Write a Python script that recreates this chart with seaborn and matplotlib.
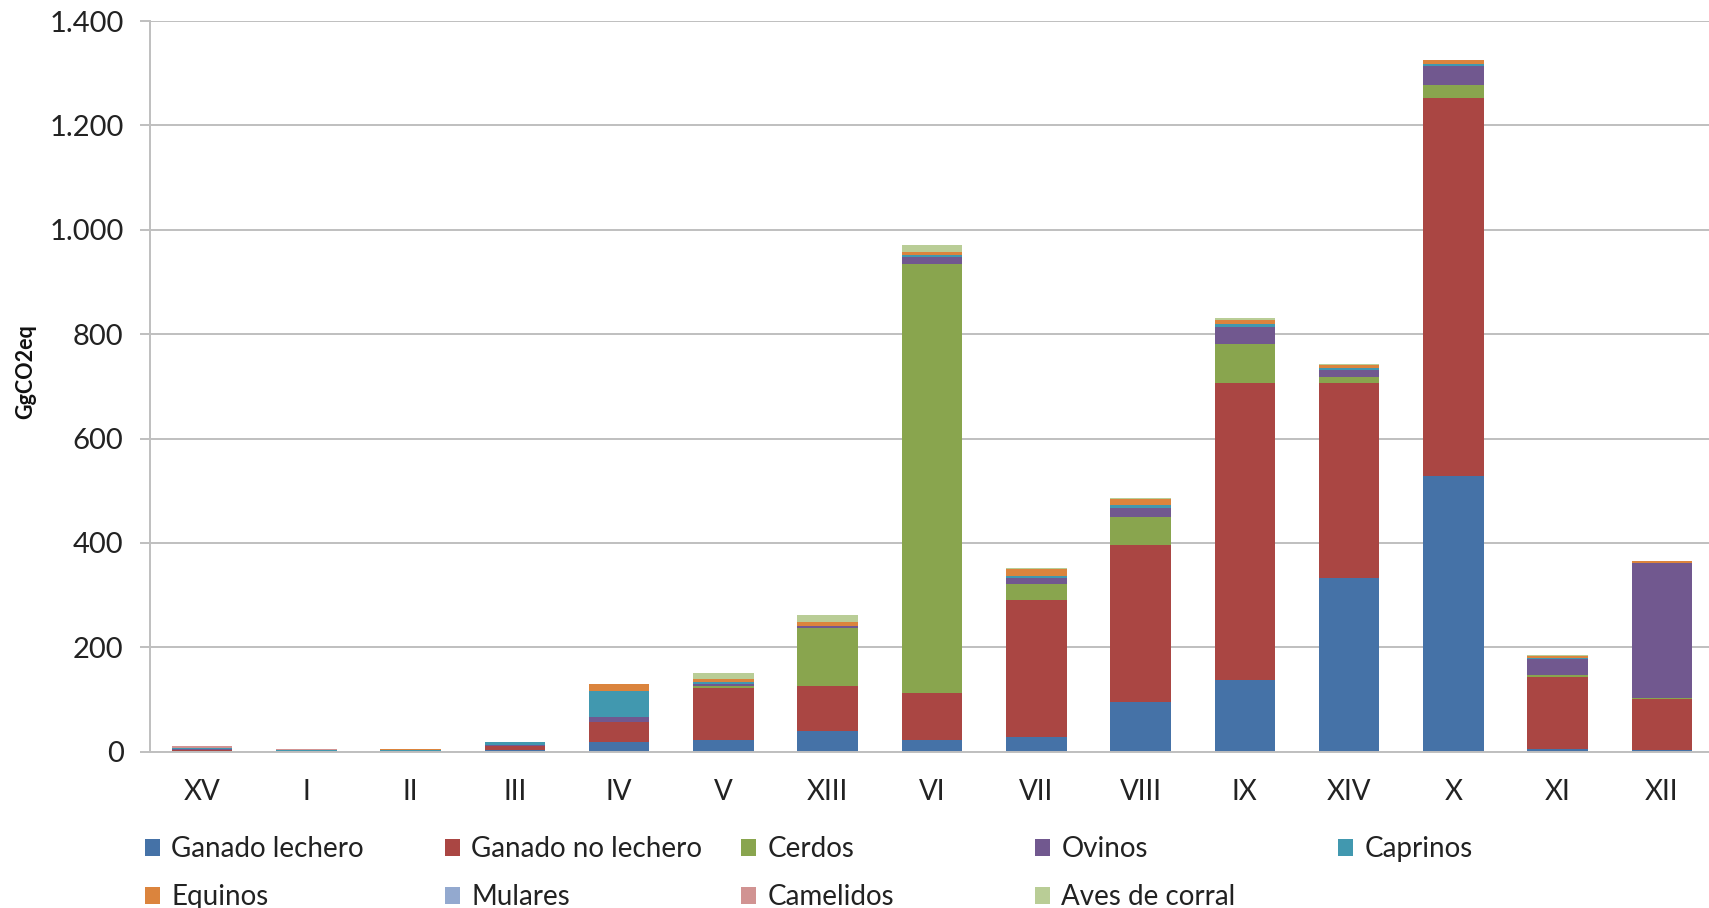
import matplotlib
matplotlib.use("Agg")
import matplotlib.pyplot as plt
import matplotlib.ticker as mticker
from matplotlib.patches import Patch
import numpy as np
import pandas as pd
import seaborn as sns

# Regions (in display order) and emissions by livestock category, GgCO2eq
regions = ["XV", "I", "II", "III", "IV", "V", "XIII", "VI", "VII", "VIII",
           "IX", "XIV", "X", "XI", "XII"]
ganado_lechero = [1, 0.3, 0.3, 4, 19, 22, 40, 23, 29, 96, 137, 332, 529, 5, 3]
ganado_no_lechero = [2, 0.7, 0.5, 6, 38, 101, 86, 90, 262, 300, 570, 375, 723, 139, 98]
cerdos = [0.5, 0.3, 0.3, 0.5, 0, 3, 111, 822, 30, 53, 74, 11, 25, 3, 2]
ovinos = [2, 0.7, 0.5, 1.5, 10, 4, 3, 13, 12, 17, 33, 14, 36, 31, 259]
caprinos = [1, 0.5, 2.0, 6, 50, 3, 1, 4, 4, 6, 5, 4, 4, 2, 0.5]
equinos = [1, 1.5, 1.0, 1, 12, 6, 7, 5, 13, 12, 8, 4, 8, 4, 2]
mulares = [0.5, 0.2, 0.2, 0, 0.5, 1, 0.5, 0.5, 1, 1, 1, 1, 0.5, 0, 0]
camelidos = [3, 1.5, 0.8, 0, 0, 0, 0, 0, 0, 0, 0, 0, 0, 0, 0]
aves_de_corral = [0.5, 0.3, 0.2, 0.2, 0.5, 10, 14, 13, 1, 2, 2, 1, 0.5, 2, 1]

series_names = ["Ganado lechero", "Ganado no lechero", "Cerdos", "Ovinos",
                "Caprinos", "Equinos", "Mulares", "Camelidos", "Aves de corral"]
series_values = [ganado_lechero, ganado_no_lechero, cerdos, ovinos, caprinos,
                 equinos, mulares, camelidos, aves_de_corral]
series_colors = ["#4572A7", "#AA4643", "#89A54E", "#71588F", "#4198AF",
                 "#DB843D", "#93A9CF", "#D19392", "#B9CD96"]
y_ticks = [0, 200, 400, 600, 800, 1000, 1200, 1400]

# Long-form table: one row per region and category
rows = []
for name, vals in zip(series_names, series_values):
    for reg, v in zip(regions, vals):
        rows.append({"Region": reg, "Categoria": name, "Valor": v})
df = pd.DataFrame(rows)
df["pos"] = df["Region"].map({r: i for i, r in enumerate(regions)})

sns.set_theme(style="white")
plt.rcParams["font.family"] = ["Lato", "DejaVu Sans"]

fig = plt.figure(figsize=(17.09, 9.08), dpi=100)
ax = fig.add_axes([150 / 1709, 1 - 751.7 / 908, (1714 - 150) / 1709, (751.7 - 21) / 908])

palette = dict(zip(series_names, series_colors))
# seaborn stacks the first hue level on top, so feed the order reversed
sns.histplot(data=df, x="pos", weights="Valor", hue="Categoria",
             hue_order=series_names[::-1], palette=palette,
             multiple="stack", discrete=True, shrink=0.58,
             alpha=1, linewidth=0, legend=False, ax=ax)

ax.set_xlim(-0.5, len(regions) - 0.5)
ax.set_ylim(0, 1400)
ax.set_xticks(range(len(regions)))
ax.set_xticklabels(regions)
ax.set_yticks(y_ticks)
ax.yaxis.set_major_formatter(
    mticker.FuncFormatter(lambda v, p: f"{int(v):,}".replace(",", ".")))

grid_color = "#BFBFBF"
ax.grid(axis="y", color=grid_color, linewidth=1.4, zorder=0)
ax.set_axisbelow(True)
for side in ["top", "right"]:
    ax.spines[side].set_visible(False)
ax.spines["left"].set_color(grid_color)
ax.spines["left"].set_linewidth(1.4)
ax.spines["bottom"].set_color(grid_color)
ax.spines["bottom"].set_linewidth(1.4)

ax.tick_params(axis="y", which="major", left=True, length=7, width=1.4,
               color=grid_color, labelsize=21, labelcolor="#222222", pad=12)
ax.tick_params(axis="x", which="major", bottom=False, labelsize=20,
               labelcolor="#222222", pad=14)

ax.set_xlabel("")
ax.set_ylabel("GgCO2eq", fontsize=15.5, fontweight="bold", color="#111111")
ax.yaxis.set_label_coords(-0.073, 0.52)

# Legend laid out as a grid of fixed columns, filled row by row
col_x = [145, 445, 741, 1035, 1338]
ncols = len(col_x)
for c, x in enumerate(col_x):
    idx = [i for i in range(len(series_names)) if i % ncols == c]
    handles = [Patch(facecolor=series_colors[i], edgecolor="none",
                     label=series_names[i]) for i in idx]
    fig.legend(handles=handles, loc="upper left",
               bbox_to_anchor=(x / 1709, 1 - 836 / 908),
               frameon=False, fontsize=20, handlelength=0.55,
               handleheight=0.55, handletextpad=0.4, borderpad=0,
               borderaxespad=0, labelspacing=0.8, labelcolor="#222222")

fig.savefig("out.png", dpi=100)
